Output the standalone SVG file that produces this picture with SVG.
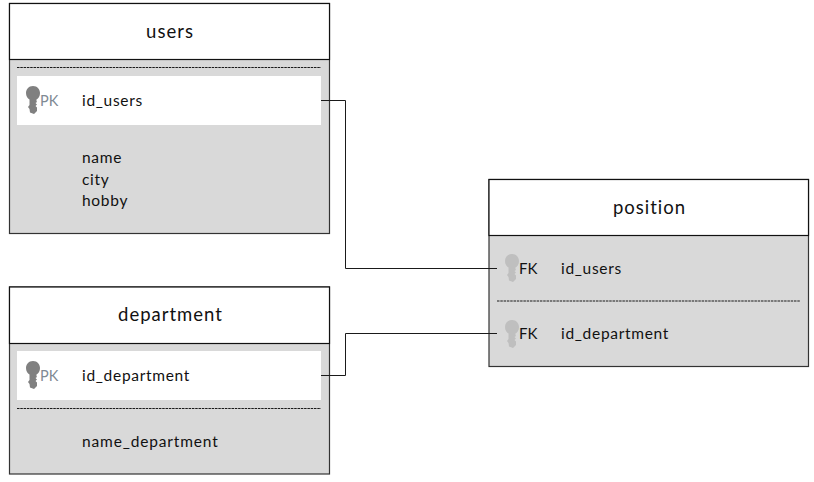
<svg xmlns="http://www.w3.org/2000/svg" width="814" height="482" viewBox="0 0 814 482">
<style>
.body{fill:#d9d9d9;stroke:#333;stroke-width:1.200}
.head{fill:#fff;stroke:#111;stroke-width:1.200}
.row{fill:#fff}
.dash{stroke:#1a1a1a;stroke-width:1.100;stroke-dasharray:2.500 .8;fill:none}
.conn{fill:none;stroke:#1a1a1a;stroke-width:1}
text{font-family:Lato,"Open Sans","Liberation Sans",sans-serif;font-size:15.500px;letter-spacing:.7px;fill:#111}
.title{font-size:18.500px;text-anchor:middle;letter-spacing:1px}
.tag{letter-spacing:0;font-size:15px}
.pk{fill:#7f8a94;letter-spacing:0;font-size:14.500px}
.k1{fill:#808080}
.k2{fill:#bfbfbf}
</style>
<defs>
<path id="key" d="M0 -8C4.500 -8 7 -4.500 7 -1C7 2 5.500 4.500 3.500 5.500L3.500 7L4 8L2.500 9L4 10.500L2.500 12L4 13.500L4 17L1 20L-3 18.500L-3.500 15L-5 13L-3.500 11L-3.500 5.500C-5.500 4.500 -7 2 -7 -1C-7 -4.500 -4.500 -8 0 -8Z"/>
</defs>
<rect width="814" height="482" fill="#fff"/>
<g id="users">
<rect class="body" x="9.500" y="3.500" width="320" height="230"/>
<rect class="head" x="9.500" y="3.500" width="320" height="56"/>
<text class="title" x="170" y="38">users</text>
<path class="dash" d="M17 67.500H321"/>
<rect class="row" x="17" y="76" width="304" height="49"/>
<use href="#key" class="k1" x="33" y="94"/>
<text class="pk" x="40" y="106">PK</text>
<text x="82" y="106">id_users</text>
<text x="82" y="163">name</text>
<text x="82" y="185">city</text>
<text x="82" y="206">hobby</text>
</g>
<g id="department">
<rect class="body" x="9.500" y="287" width="320" height="187"/>
<rect class="head" x="9.500" y="287" width="320" height="56.500"/>
<text class="title" x="170.500" y="321">department</text>
<rect class="row" x="17" y="351" width="304" height="49"/>
<use href="#key" class="k1" x="33" y="369"/>
<text class="pk" x="40" y="381">PK</text>
<text x="82" y="381">id_department</text>
<path class="dash" d="M17 408.500H321"/>
<text x="82" y="447" style="letter-spacing:.85px">name_department</text>
</g>
<g id="position">
<rect class="body" x="489" y="179.500" width="319.500" height="187"/>
<rect class="head" x="489" y="179.500" width="319.500" height="56"/>
<text class="title" x="649.500" y="214">position</text>
<use href="#key" class="k2" x="512" y="262"/>
<text class="tag" x="519" y="274">FK</text>
<text x="561" y="274">id_users</text>
<path class="dash" d="M497 301H800"/>
<use href="#key" class="k2" x="512" y="328"/>
<text class="tag" x="519" y="339">FK</text>
<text x="561" y="339">id_department</text>
</g>
<g id="connectors">
<path class="conn" d="M321 100.500H345.500V268.500H497"/>
<path class="conn" d="M321 375.500H345.500V333.500H497"/>
</g>
</svg>
